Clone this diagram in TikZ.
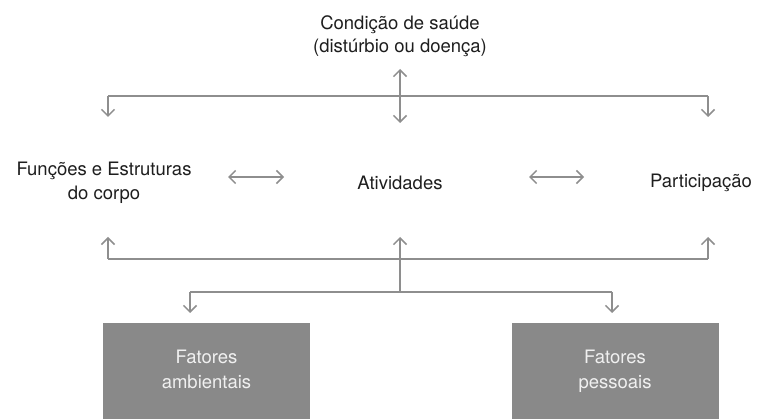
\documentclass[tikz,border=0pt]{standalone}
\usepackage{fontspec}
\setmainfont{TeX Gyre Heros}
\usetikzlibrary{arrows.meta}
\definecolor{linegray}{HTML}{8E8E8E}
\definecolor{boxgray}{HTML}{898989}
\definecolor{txt}{HTML}{1E1E1E}
\definecolor{boxtxt}{HTML}{F0F0F0}
\begin{document}
\begin{tikzpicture}[x=1pt,y=-1pt,
  lbl/.style={text=txt,font=\fontsize{18.5}{23.5}\selectfont,align=center,inner sep=0pt},
  factor/.style={fill=boxgray,text=boxtxt,font=\fontsize{18.5}{25}\selectfont,align=center,
     minimum width=207pt,minimum height=96pt,inner sep=0pt,anchor=north},
  conn/.style={draw=linegray,line width=1.5pt},
  tip/.style={-{Straight Barb[length=6.5pt,width=13pt,line width=1.5pt]}},
  dtip/.style={{Straight Barb[length=6.5pt,width=13pt,line width=1.5pt]}-{Straight Barb[length=6.5pt,width=13pt,line width=1.5pt]}}]
\useasboundingbox (0,0) rectangle (760,419);
% texts
\node[lbl] (cond) at (400,36) {Condição de saúde\\(distúrbio ou doença)};
\node[lbl] (func) at (104,183) {Funções e Estruturas\\do corpo};
\node[lbl] (ativ) at (400,183) {Atividades};
\node[lbl] (part) at (701,183) {Participação};
% factor boxes
\node[factor] (amb) at (206.5,323) {Fatores\\ambientais\vphantom{p}};
\node[factor] (pes) at (615,323) {Fatores\\pessoais};
% coordinates
\coordinate (ct) at (400,69);
\coordinate (cb) at (400,123);
\coordinate (h1l) at (108,96);
\coordinate (h1r) at (708,96);
\coordinate (d1l) at (108,117);
\coordinate (d1r) at (708,117);
\coordinate (fa) at (228,177);
\coordinate (fb) at (284,177);
\coordinate (pa) at (529,177);
\coordinate (pb) at (584,177);
\coordinate (h2l) at (108,259);
\coordinate (h2r) at (708,259);
\coordinate (u2l) at (108,237);
\coordinate (u2c) at (400,237);
\coordinate (u2r) at (708,237);
\coordinate (h3c) at (400,292);
\coordinate (h3l) at (190,292);
\coordinate (h3r) at (612,292);
\coordinate (d3l) at (190,313);
\coordinate (d3r) at (612,313);
% connectors
\draw[conn] (h1l) -- (h1r);
\draw[conn,dtip] (ct) -- (cb);
\draw[conn,tip] (h1l) -- (d1l);
\draw[conn,tip] (h1r) -- (d1r);
\draw[conn,dtip] (fa) -- (fb);
\draw[conn,dtip] (pa) -- (pb);
\draw[conn] (h2l) -- (h2r);
\draw[conn,tip] (h2l) -- (u2l);
\draw[conn,tip] (h2r) -- (u2r);
\draw[conn,tip] (h3c) -- (u2c);
\draw[conn] (h3l) -- (h3r);
\draw[conn,tip] (h3l) -- (d3l);
\draw[conn,tip] (h3r) -- (d3r);
\end{tikzpicture}
\end{document}
